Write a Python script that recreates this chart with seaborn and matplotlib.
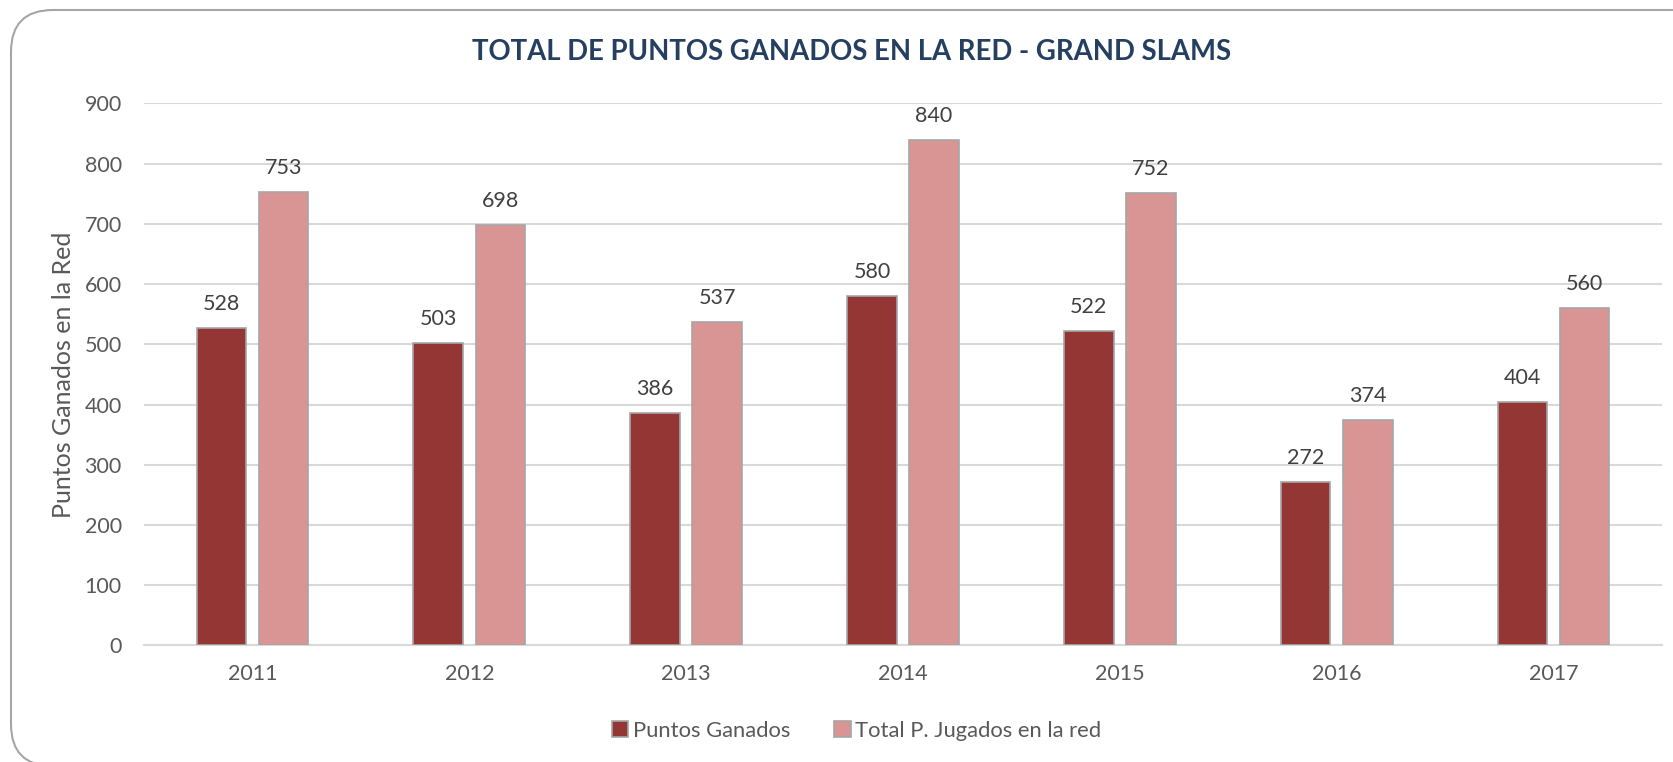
import matplotlib
matplotlib.use("Agg")
import matplotlib.pyplot as plt
import seaborn as sns
import pandas as pd
from matplotlib.patches import FancyBboxPatch, Patch

years = ["2011", "2012", "2013", "2014", "2015", "2016", "2017"]
puntos_ganados = [528, 503, 386, 580, 522, 272, 404]
total_jugados = [753, 698, 537, 840, 752, 374, 560]
series_names = ["Puntos Ganados", "Total P. Jugados en la red"]
colors = ["#943634", "#D99594"]

df = pd.DataFrame({
    "year": years * 2,
    "value": puntos_ganados + total_jugados,
    "serie": [series_names[0]] * len(years) + [series_names[1]] * len(years),
})

sns.set_theme(style="white")
plt.rcParams["font.family"] = ["Lato", "DejaVu Sans"]

fig = plt.figure(figsize=(16.73, 7.62), dpi=100)
ax = fig.add_axes([0.0861, 0.1529, 0.9934 - 0.0861, 0.8642 - 0.1529])

sns.barplot(data=df, x="year", y="value", hue="serie", palette=colors,
            saturation=1, width=0.572, gap=0.2, edgecolor="#A6A6A6", linewidth=1.2,
            ax=ax, legend=False, zorder=3)

ax.set_ylim(0, 900)
ax.set_xlim(-0.5, 6.5)
ax.set_yticks(range(0, 901, 100))
ax.yaxis.grid(True, color="#D9D9D9", linewidth=1.5, zorder=0)
ax.set_axisbelow(True)
for s in ["top", "right", "left"]:
    ax.spines[s].set_visible(False)
ax.spines["bottom"].set_color("#D9D9D9")
ax.spines["bottom"].set_linewidth(1.5)
ax.tick_params(axis="both", length=0, labelsize=15.5, labelcolor="#595959")
ax.tick_params(axis="y", pad=16)
ax.tick_params(axis="x", pad=13)
ax.set_xlabel("")
ax.set_ylabel("Puntos Ganados en la Red", fontsize=18, color="#595959", labelpad=7)

for cont in ax.containers:
    for bar in cont:
        h = bar.get_height()
        ax.annotate(f"{int(round(h))}", (bar.get_x() + bar.get_width() / 2, h),
                    xytext=(0, 10), textcoords="offset points",
                    ha="center", va="bottom", fontsize=15.5, color="#404040")

fig.text(0.509, 0.932, "TOTAL DE PUNTOS GANADOS EN LA RED - GRAND SLAMS",
         ha="center", va="center", fontsize=19.8, fontweight="bold", color="#243F60")

handles = [Patch(facecolor=c, edgecolor="#A6A6A6", linewidth=1.2) for c in colors]
fig.legend(handles, series_names, loc="center", bbox_to_anchor=(0.512, 0.041),
           ncol=2, frameon=False, fontsize=15.8, labelcolor="#595959",
           handlelength=0.75, handleheight=0.75, handletextpad=0.2, columnspacing=2.0)

border = FancyBboxPatch((11 / 1673, -4 / 762), 1.02, 1 - 10 / 762 + 4 / 762,
                        boxstyle="round,pad=0,rounding_size=0.025",
                        transform=fig.transFigure, facecolor="none",
                        edgecolor="#A6A6A6", linewidth=1.5, clip_on=False,
                        mutation_aspect=1673 / 762)
fig.patches.append(border)

fig.savefig("out.png", dpi=100)
